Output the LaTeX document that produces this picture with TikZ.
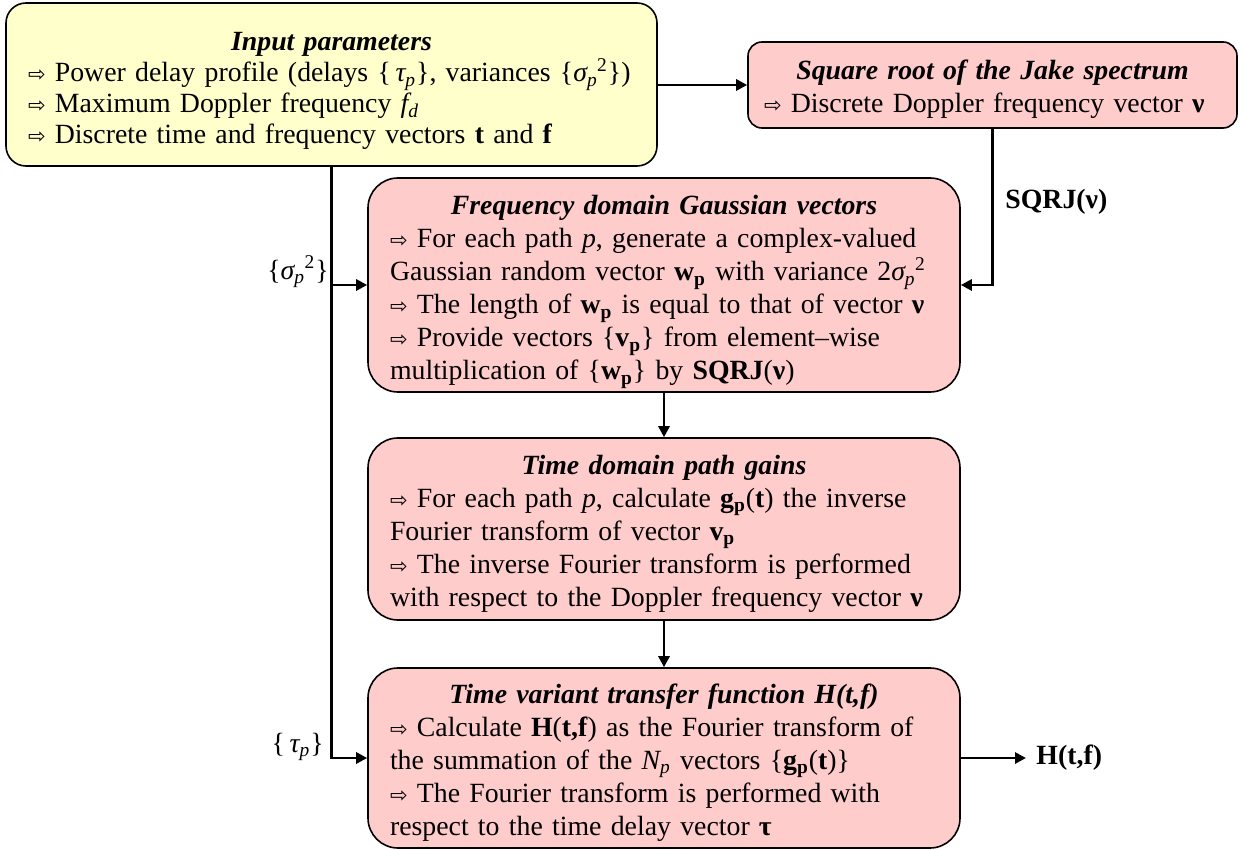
\documentclass[tikz,border=0pt]{standalone}
\usepackage{fontspec}
\setmainfont{Liberation Serif}
\newfontfamily\symfont{DejaVu Sans}
\usetikzlibrary{arrows.meta}
\definecolor{yel}{HTML}{FFFFCC}
\definecolor{pnk}{HTML}{FFCCCC}
\newcommand\arr{{\symfont\fontsize{10.5pt}{10pt}\selectfont ⇨}\ }
\newcommand\ttl[2]{\hbox to \hsize{\vrule height #1 width 0pt\hss\bfseries\itshape #2\hss}}
\newcommand\subp{\textsubscript{\itshape p}}
\newcommand\bsub[1]{\textbf{#1}\textsubscript{\textbf{p}}}
\newcommand\sigsq{{\itshape σ}\textsubscript{\itshape p}\kern-0.02em\textsuperscript{2}}
\newcommand\taup{{\itshape τ}\textsubscript{\itshape p}}
\newcommand\bnu{\textbf{ν}}
\begin{document}
\begin{tikzpicture}[x=0.5pt,y=-0.5pt,
  every node/.style={font=\fontsize{13.9pt}{16.5pt}\selectfont, inner sep=0pt},
  box/.style={draw=black, line width=0.8pt, align=left, inner xsep=11pt, inner ysep=0pt},
  conn/.style={line width=1.4pt},
  arw/.style={conn, -{Triangle[length=5.5pt,width=5.5pt]}}]
\useasboundingbox (0,0) rectangle (1243,850);

\node[box, fill=yel, rounded corners=10pt, text width=303.5pt, minimum height=81.5pt,
      font=\fontsize{13.9pt}{15.5pt}\selectfont] (inp) at (331.5,84.5)
 {\ttl{16pt}{Input parameters}\\
  \arr Power delay profile (delays \{\,\taup\}, variances \{\sigsq\})\\
  \arr Maximum Doppler frequency {\itshape f}\textsubscript{\itshape d}\\
  \arr Discrete time and frequency vectors \textbf{t} and \textbf{f}};

\node[box, fill=pnk, rounded corners=7pt, inner xsep=8pt, text width=228.5pt, minimum height=43pt] (sqrt) at (992.5,85)
 {\ttl{14.5pt}{Square root of the Jake spectrum}\\
  \arr Discrete Doppler frequency vector \bnu};

\node[box, fill=pnk, rounded corners=15pt, text width=274pt, minimum height=107pt] (freq) at (664,285)
 {\ttl{16.5pt}{Frequency domain Gaussian vectors}\\
  \arr For each path {\itshape p}, generate a complex-valued\\
  Gaussian random vector \bsub{w} with variance 2\sigsq\\
  \arr The length of \bsub{w} is equal to that of vector \bnu\\
  \arr Provide vectors \{\bsub{v}\} from element–wise\\
  multiplication of \{\bsub{w}\} by \textbf{SQRJ}(\bnu)};

\node[box, fill=pnk, rounded corners=15pt, text width=274pt, minimum height=91pt] (tdom) at (664,529)
 {\ttl{14.5pt}{Time domain path gains}\\
  \arr For each path {\itshape p}, calculate \bsub{g}(\textbf{t}) the inverse\\
  Fourier transform of vector \bsub{v}\\
  \arr The inverse Fourier transform is performed\\
  with respect to the Doppler frequency vector \bnu};

\node[box, fill=pnk, rounded corners=15pt, text width=274pt, minimum height=90pt] (tvar) at (664,758)
 {\ttl{14.5pt}{Time variant transfer function H(t,f)}\\
  \arr Calculate \textbf{H}(\textbf{t,f}) as the Fourier transform of\\
  the summation of the {\itshape N}\subp\ vectors \{\bsub{g}(\textbf{t})\}\\
  \arr The Fourier transform is performed with\\
  respect to the time delay vector \textbf{τ}};

\node[anchor=east] (lsig) at (329,272) {\{\sigsq\}};
\node[anchor=east] (ltau) at (324,747) {\{\,\taup\}};
\node[anchor=west] (lsq) at (1005,202) {\textbf{SQRJ(ν)}};
\coordinate (out) at (1026,758);
\node[anchor=west] (lh) at (1036,758) {\textbf{H(t,f)}};

\draw[arw] (inp.east |- sqrt.west) -- (sqrt.west);
\draw[arw] (sqrt.south) |- (freq.east);
\draw[arw] (inp.south) |- (tvar.west);
\draw[arw] (inp.south |- freq.west) -- (freq.west);
\draw[arw] (freq.south) -- (tdom.north);
\draw[arw] (tdom.south) -- (tvar.north);
\draw[arw] (tvar.east) -- (out);
\end{tikzpicture}
\end{document}
